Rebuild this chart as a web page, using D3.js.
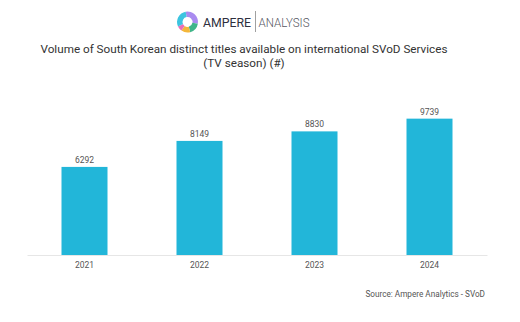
<!DOCTYPE html>
<html>
<head>
<meta charset="utf-8">
<script src="https://cdn.jsdelivr.net/npm/d3@7"></script>
<style>
  body { margin: 0; background: #fff; }
  svg { font-family: Roboto, "Noto Sans", sans-serif; }
</style>
</head>
<body>
<div id="chart"></div>
<script>
// Data
var years = ["2021", "2022", "2023", "2024"];
var titleCounts = [6292, 8149, 8830, 9739];

// Logo ring segments (start/end angle in degrees, colour)
var logoSegments = [
    { a0: -10, a1: 100, color: "#a98bf0" },
    { a0: 100, a1: 165, color: "#3fb58a" },
    { a0: 165, a1: 215, color: "#f4b73a" },
    { a0: 215, a1: 245, color: "#e86fb8" },
    { a0: 245, a1: 350, color: "#3cc4e0" }
];

var width = 520, height = 322;
var margin = { top: 115, right: 33, bottom: 67, left: 27 };
var innerW = width - margin.left - margin.right,
    innerH = height - margin.top - margin.bottom;

var svg = d3.select("#chart").append("svg")
    .attr("width", width)
    .attr("height", height);

// Header logo
var logo = svg.append("g").attr("transform", "translate(187.5,22)");
var arc = d3.arc().innerRadius(5).outerRadius(10.5);
logo.selectAll("path")
    .data(logoSegments)
    .enter()
    .append("path")
    .attr("d", function(d) {
        return arc({ startAngle: d.a0 * Math.PI / 180, endAngle: d.a1 * Math.PI / 180 });
    })
    .attr("fill", function(d) { return d.color; });

svg.append("text")
    .attr("x", 203).attr("y", 27)
    .attr("textLength", 48)
    .attr("lengthAdjust", "spacingAndGlyphs")
    .style("font-size", "13.5px")
    .style("fill", "#2e2f3e")
    .text("AMPERE");
svg.append("line")
    .attr("x1", 255.5).attr("x2", 255.5)
    .attr("y1", 11).attr("y2", 32)
    .attr("stroke", "#a0a0a0")
    .attr("stroke-width", 1);
svg.append("text")
    .attr("x", 258.5).attr("y", 27)
    .attr("textLength", 51)
    .attr("lengthAdjust", "spacingAndGlyphs")
    .style("font-size", "13.5px")
    .style("font-weight", 300)
    .style("fill", "#55565f")
    .text("ANALYSIS");

// Title
var title = svg.append("text")
    .attr("text-anchor", "middle")
    .style("font-size", "11.7px")
    .style("fill", "#333");
title.append("tspan").attr("x", 244).attr("y", 53)
    .text("Volume of South Korean distinct titles available on international SVoD Services");
title.append("tspan").attr("x", 244).attr("y", 66.5)
    .text("(TV season) (#)");

var g = svg.append("g")
    .attr("transform", "translate(" + margin.left + "," + margin.top + ")");

// Scales
var x = d3.scaleBand()
    .domain(years)
    .range([0, innerW])
    .paddingInner(0.6)
    .paddingOuter(0.3);

var y = d3.scaleLinear()
    .domain([0, 10000])
    .range([innerH, 0]);

// Bars
g.selectAll(".bar")
    .data(years)
    .enter()
    .append("rect")
    .attr("class", "bar")
    .attr("x", function(d) { return x(d); })
    .attr("y", function(d, i) { return y(titleCounts[i]); })
    .attr("width", x.bandwidth())
    .attr("height", function(d, i) { return innerH - y(titleCounts[i]); })
    .attr("fill", "#22b6d9");

// Value labels
g.selectAll(".value")
    .data(years)
    .enter()
    .append("text")
    .attr("class", "value")
    .attr("x", function(d) { return x(d) + x.bandwidth() / 2; })
    .attr("y", function(d, i) { return y(titleCounts[i]) - 4; })
    .attr("text-anchor", "middle")
    .style("font-size", "8.5px")
    .style("fill", "#555")
    .text(function(d, i) { return titleCounts[i]; });

// X axis
var xAxis = g.append("g")
    .attr("transform", "translate(0," + innerH + ")")
    .call(d3.axisBottom(x).tickSize(0).tickPadding(7));
xAxis.select(".domain").attr("stroke", "#e6e6e6");
xAxis.selectAll("text")
    .style("font-family", "Roboto, sans-serif")
    .style("font-size", "8.5px")
    .style("fill", "#555");

// Source note
svg.append("text")
    .attr("x", 485).attr("y", 297)
    .attr("text-anchor", "end")
    .style("font-size", "8.2px")
    .style("fill", "#555")
    .text("Source: Ampere Analytics - SVoD");
</script>
</body>
</html>
